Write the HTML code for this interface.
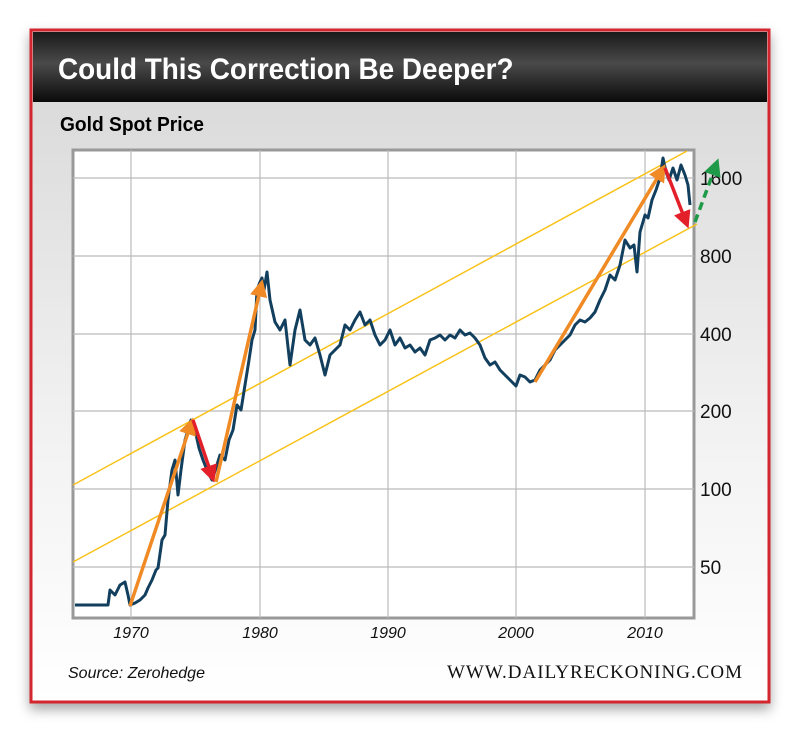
<!DOCTYPE html>
<html><head><style>
body{margin:0;width:800px;height:740px;background:#fff;overflow:hidden;font-family:"Liberation Sans",sans-serif}
</style></head><body>
<svg width="800" height="740" xmlns="http://www.w3.org/2000/svg">
<defs>
<linearGradient id="hd" x1="0" y1="0" x2="0" y2="1"><stop offset="0" stop-color="#1a1a1a"/><stop offset="0.45" stop-color="#4a4a4a"/><stop offset="1" stop-color="#0a0a0a"/></linearGradient>
<linearGradient id="bd" x1="0" y1="0" x2="0" y2="1"><stop offset="0" stop-color="#d6d6d6"/><stop offset="0.6" stop-color="#f2f2f2"/><stop offset="1" stop-color="#ffffff"/></linearGradient>
<filter id="sh" x="-5%" y="-5%" width="110%" height="115%"><feDropShadow dx="0" dy="6" stdDeviation="6" flood-color="#000" flood-opacity="0.35"/></filter>
<marker id="ao" markerWidth="5" markerHeight="5" refX="3" refY="2.5" orient="auto" markerUnits="strokeWidth"><path d="M0,0L5,2.5L0,5z" fill="#f08a24"/></marker>
<marker id="ar" markerWidth="5" markerHeight="5" refX="3" refY="2.5" orient="auto" markerUnits="strokeWidth"><path d="M0,0L5,2.5L0,5z" fill="#e3202a"/></marker>
<marker id="ag" markerWidth="5" markerHeight="5" refX="3" refY="2.5" orient="auto" markerUnits="strokeWidth"><path d="M0,0L5,2.5L0,5z" fill="#1f9a48"/></marker>
</defs>
<rect x="31" y="30" width="738" height="672" fill="url(#bd)" stroke="#d4252f" stroke-width="3" filter="url(#sh)"/>
<rect x="33" y="32" width="734" height="70" fill="url(#hd)"/>
<text x="58" y="79" font-size="30" font-weight="bold" fill="#fff" transform="translate(58,0) scale(0.93,1) translate(-58,0)">Could This Correction Be Deeper?</text>
<text x="60" y="131" font-size="20" font-weight="bold" fill="#000" transform="translate(60,0) scale(0.96,1) translate(-60,0)">Gold Spot Price</text>
<rect x="73" y="150" width="621" height="468" fill="#fff" stroke="#999" stroke-width="3"/>
<g stroke="#bbb" stroke-width="1.2">
<line x1="131" y1="150" x2="131" y2="618"/><line x1="260" y1="150" x2="260" y2="618"/><line x1="388" y1="150" x2="388" y2="618"/><line x1="516" y1="150" x2="516" y2="618"/><line x1="645" y1="150" x2="645" y2="618"/>
<line x1="73" y1="178" x2="694" y2="178"/><line x1="73" y1="256" x2="694" y2="256"/><line x1="73" y1="334" x2="694" y2="334"/><line x1="73" y1="411" x2="694" y2="411"/><line x1="73" y1="489" x2="694" y2="489"/><line x1="73" y1="567" x2="694" y2="567"/>
</g>
<g font-size="19" fill="#111">
<text x="700" y="185">1600</text><text x="700" y="263">800</text><text x="700" y="341">400</text><text x="700" y="418">200</text><text x="700" y="496">100</text><text x="700" y="574">50</text>
</g>
<g font-size="16" font-style="italic" fill="#111" text-anchor="middle">
<text x="131" y="638">1970</text><text x="260" y="638">1980</text><text x="388" y="638">1990</text><text x="516" y="638">2000</text><text x="645" y="638">2010</text>
</g>
<line x1="73" y1="485" x2="687" y2="151" stroke="#f9c21a" stroke-width="1.5"/>
<line x1="73" y1="562" x2="697" y2="224" stroke="#f9c21a" stroke-width="1.5"/>
<polyline fill="none" stroke="#123f5e" stroke-width="3" stroke-linejoin="round" points="75,605 108,605 110,590 115,595 120,585 125,582 128,595 130,605 135,603 140,600 145,595 148,588 152,580 156,570 158,568 162,540 165,535 168,500 172,470 175,460 178,495 181,470 185,440 188,430 191,420 195,430 199,448 203,460 207,470 212,480 216,468 220,455 225,460 229,440 233,430 237,405 241,410 245,385 249,360 252,340 255,330 257,290 260,282 262,278 264,290 267,272 270,300 275,322 280,330 285,320 290,365 295,330 300,310 305,340 310,345 315,338 320,355 325,375 330,355 335,350 340,345 345,325 350,330 355,320 360,312 365,325 370,320 375,335 380,345 385,340 390,330 395,345 400,338 405,348 410,345 415,352 420,348 425,355 430,340 435,338 440,335 445,340 450,335 455,338 460,330 465,335 470,333 475,338 480,345 485,358 490,365 495,362 500,370 505,375 510,380 516,386 520,375 525,377 530,382 535,380 540,370 545,365 550,360 555,350 560,345 565,340 570,335 575,325 580,320 585,322 590,318 595,312 600,300 605,290 610,275 615,280 620,265 625,240 630,248 634,245 637,272 640,232 645,215 648,218 652,200 656,190 660,178 663,158 666,172 669,180 673,168 677,180 681,165 685,175 688,185 690,205"/>
<g stroke-width="3.5" fill="none" stroke-linecap="butt">
<line x1="130" y1="606" x2="191" y2="424" stroke="#f08a24" marker-end="url(#ao)"/>
<line x1="193" y1="420" x2="212" y2="476" stroke="#e3202a" marker-end="url(#ar)"/>
<line x1="216" y1="482" x2="261" y2="286" stroke="#f08a24" marker-end="url(#ao)"/>
<line x1="535" y1="382" x2="662" y2="170" stroke="#f08a24" marker-end="url(#ao)"/>
<line x1="665" y1="168" x2="686" y2="222" stroke="#e3202a" marker-end="url(#ar)"/>
<line x1="695" y1="222" x2="716" y2="165" stroke="#1f9a48" stroke-dasharray="8,5" marker-end="url(#ag)"/>
</g>
<text x="68" y="678" font-size="16" font-style="italic" fill="#111">Source: Zerohedge</text>
<text x="742" y="678" font-size="19" font-family="Liberation Serif, serif" fill="#111" text-anchor="end" textLength="295">WWW.DAILYRECKONING.COM</text>
</svg>
</body></html>
